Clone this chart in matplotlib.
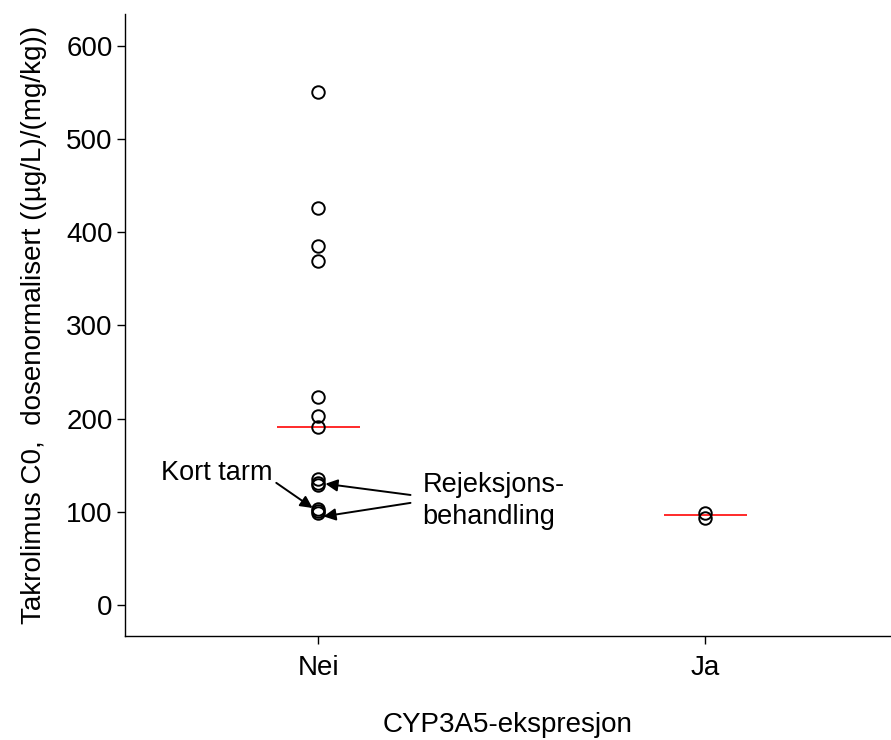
import numpy as np
import matplotlib.pyplot as plt

plt.rcParams['font.family'] = ['Liberation Sans', 'DejaVu Sans']

groups = ['Nei', 'Ja']
nei_values = [550, 426, 385, 369, 223, 203, 191, 135, 131, 129, 103, 101, 99]
ja_values = [99, 93]

fig = plt.figure(figsize=(8.91, 7.4), dpi=100)
ax = fig.add_axes([125 / 891, 104 / 740, 766 / 891, 622 / 740])

for i, vals in enumerate([nei_values, ja_values], start=1):
    ax.plot([i] * len(vals), vals, 'o', mfc='none', mec='black', ms=9, mew=1.4, zorder=3)
    med = np.median(vals)
    ax.hlines(med, i - 0.108, i + 0.108, color='#ff2a2a', lw=1.4, zorder=2)

arrow = dict(arrowstyle='-|>', color='black', lw=1.4, mutation_scale=18, shrinkA=0, shrinkB=0)
ax.text(0.592, 142, 'Kort tarm', fontsize=19.5, ha='left', va='center')
ax.annotate('', xy=(0.985, 104), xytext=(0.891, 131), arrowprops=arrow)
ax.text(1.269, 112, 'Rejeksjons-\nbehandling', fontsize=19.5, ha='left', va='center', linespacing=1.3)
ax.annotate('', xy=(1.018, 130), xytext=(1.238, 118), arrowprops=arrow)
ax.annotate('', xy=(1.013, 95), xytext=(1.238, 109.5), arrowprops=arrow)

ax.set_xlim(0.5, 2.48)
ax.set_ylim(-33.3, 634)
ax.set_xticks([1, 2])
ax.set_xticklabels(groups)
ax.set_yticks(range(0, 601, 100))
ax.tick_params(labelsize=20, length=6, width=1.0, direction='out', pad=3)
ax.tick_params(axis='x', pad=8)
for side in ['top', 'right']:
    ax.spines[side].set_visible(False)
for side in ['left', 'bottom']:
    ax.spines[side].set_linewidth(1.0)

ax.set_xlabel('CYP3A5-ekspresjon', fontsize=20, labelpad=22)
ax.set_ylabel('Takrolimus C0,  dosenormalisert ((µg/L)/(mg/kg))', fontsize=20, labelpad=14)

fig.savefig('out.png', dpi=100)
